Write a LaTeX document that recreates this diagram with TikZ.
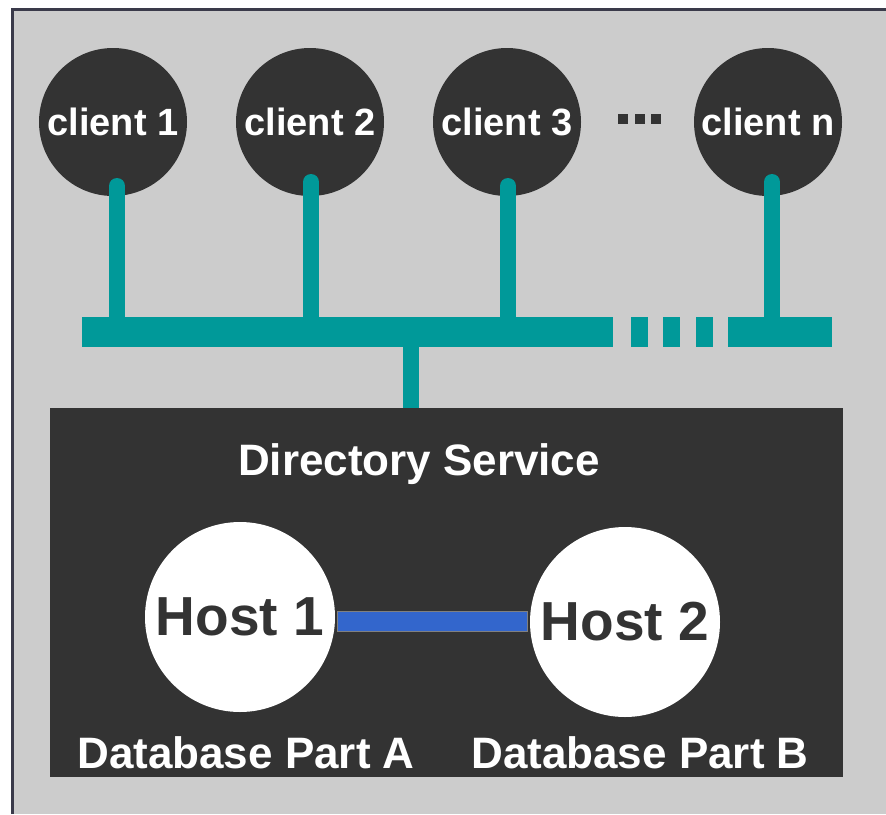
\documentclass[tikz,border=0pt]{standalone}
\usepackage{fontspec}
\setmainfont{Liberation Sans}
\usetikzlibrary{calc}
\definecolor{bg}{HTML}{CCCCCC}
\definecolor{dk}{HTML}{333333}
\definecolor{teal2}{HTML}{009999}
\definecolor{lnk}{HTML}{3366CC}
\definecolor{frame}{HTML}{3A3A4A}
\tikzset{
  client/.style={circle, fill=dk, minimum size=148pt, inner sep=0pt, text=white, font=\bfseries\fontsize{38}{40}\selectfont},
  host/.style={circle, fill=white, minimum size=190pt, inner sep=0pt, text=dk, font=\bfseries\fontsize{55}{58}\selectfont},
  busseg/.style={rectangle, fill=teal2, inner sep=0pt, minimum height=30pt},
  dotsq/.style={rectangle, fill=dk, inner sep=0pt, minimum size=10pt},
  stem/.style={draw=teal2, line width=16pt},
  wlabel/.style={text=white, font=\bfseries\fontsize{44}{46}\selectfont, inner sep=0pt},
}
\begin{document}
\begin{tikzpicture}[x=1pt,y=-1pt]
\useasboundingbox (0,0) rectangle (886,814);
\fill[white] (0,0) rectangle (886,814);
\fill[bg] (12,9) rectangle (886,814);
\draw[frame, line width=3pt] (12,814) -- (12,9) -- (886,9);
% box
\node[rectangle, fill=dk, minimum width=793pt, minimum height=369pt, inner sep=0pt, anchor=north west] (box) at (50,408) {};
% bus
\node[busseg, minimum width=531pt, anchor=north west] (bus) at (82,317) {};
\node[busseg, minimum width=17pt, anchor=north west] (d1) at (631,317) {};
\node[busseg, minimum width=17pt, anchor=north west] (d2) at (663,317) {};
\node[busseg, minimum width=17pt, anchor=north west] (d3) at (696,317) {};
\node[busseg, minimum width=104pt, anchor=north west] (busn) at (728,317) {};
% clients
\node[client] (c1) at (113,122) {client 1};
\node[client] (c2) at (310,122) {client 2};
\node[client] (c3) at (507,122) {client 3};
\node[client] (cn) at (768,122) {client n};
\node[dotsq] (e1) at (623,119) {};
\node[dotsq] (e2) at (640,119) {};
\node[dotsq] (e3) at (656,119) {};
% stems
\coordinate (s1) at (117,186);
\coordinate (s2) at (311,182);
\coordinate (s3) at (508,186);
\coordinate (sn) at (772,182);
\draw[stem, line cap=round] (s1) -- (s1 |- bus.north);
\draw[stem, line cap=round] (s2) -- (s2 |- bus.north);
\draw[stem, line cap=round] (s3) -- (s3 |- bus.north);
\draw[stem, line cap=round] (sn) -- (sn |- busn.north);
\coordinate (sb) at (411,340);
\draw[stem] (sb) -- (sb |- box.north);
% directory
\node[wlabel] (dir) at (419,464) {Directory Service};
% hosts
\node[host] (h1) at (240,617) {Host 1};
\node[host] (h2) at (625,622) {Host 2};
\path (h1.east) ++(0,4) coordinate (l1);
\path (h2.west) ++(0,-1) coordinate (l2);
\fill[lnk, draw=gray, line width=1pt] ($(l1)+(2,-10)$) rectangle ($(l2 |- l1)+(-2,10)$);
\node[wlabel] (pa) at (246,753) {Database Part A};
\node[wlabel] (pb) at (640,753) {Database Part B};
\end{tikzpicture}
\end{document}
